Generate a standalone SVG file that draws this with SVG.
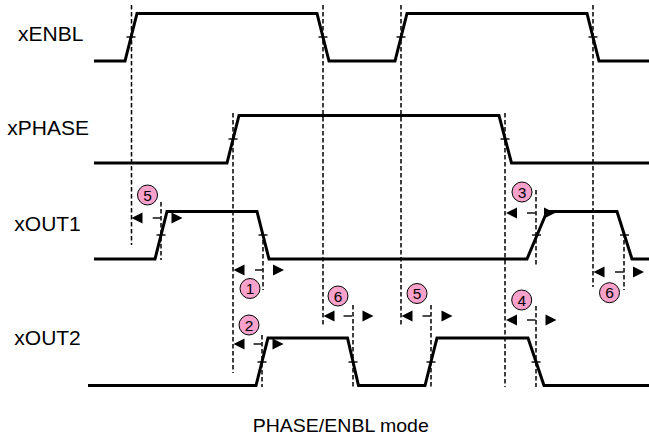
<svg xmlns="http://www.w3.org/2000/svg" xmlns:xlink="http://www.w3.org/1999/xlink" width="649" height="445" viewBox="0 0 649 445">
<style>
.sig{fill:none;stroke:#000;stroke-width:3;stroke-linejoin:miter}
.dash{fill:none;stroke:#000;stroke-width:1.5;stroke-dasharray:4.5,2.5}
.tick{stroke:#000;stroke-width:1.4}
.lbl{font-family:"Liberation Sans",Arial,sans-serif;font-size:21px;fill:#000}
.cap{font-family:"Liberation Sans",Arial,sans-serif;font-size:18px;fill:#000}
.num{font-family:"Liberation Sans",Arial,sans-serif;font-size:15.5px;fill:#000;text-anchor:middle}
.badge{fill:#F7A1CB;stroke:#000;stroke-width:1}
.ah{fill:#000}
</style>
<defs>
<polygon id="la" class="ah" points="0,0 11,-5.5 11,5.5"/>
<polygon id="ra" class="ah" points="0,-5.5 11,0 0,5.5"/>
</defs>
<g id="labels">
<text class="lbl" x="18" y="41">xENBL</text>
<text class="lbl" x="7.3" y="135">xPHASE</text>
<text class="lbl" x="14.3" y="231">xOUT1</text>
<text class="lbl" x="14.3" y="345">xOUT2</text>
<text class="cap" transform="translate(252.7,431.7) scale(1.085,1)" x="0" y="0">PHASE/ENBL mode</text>
</g>
<g id="connectors">
<line class="dash" x1="131.5" y1="5" x2="131.5" y2="245"/>
<line class="dash" x1="323" y1="5" x2="323" y2="325"/>
<line class="dash" x1="401" y1="5" x2="401" y2="325"/>
<line class="dash" x1="593" y1="5" x2="593" y2="287"/>
<line class="dash" x1="233" y1="113" x2="233" y2="373"/>
<line class="dash" x1="505" y1="113" x2="505" y2="387"/>
<line class="dash" x1="161" y1="202" x2="161" y2="260"/>
<line class="dash" x1="263" y1="233" x2="263" y2="290"/>
<line class="dash" x1="536" y1="190" x2="536" y2="265"/>
<line class="dash" x1="624" y1="233" x2="624" y2="290"/>
<line class="dash" x1="262" y1="335" x2="262" y2="387"/>
<line class="dash" x1="353" y1="305" x2="353" y2="387"/>
<line class="dash" x1="431" y1="305" x2="431" y2="387"/>
<line class="dash" x1="536" y1="306" x2="536" y2="387"/>
</g>
<g id="xENBL">
<path class="sig" d="M94,61 H125 L137,13.5 H317 L329,61 H395 L407,13.5 H587 L599,61 H649"/>
<line class="tick" x1="126.5" y1="37" x2="135.5" y2="37"/>
<line class="tick" x1="318.5" y1="37" x2="327.5" y2="37"/>
<line class="tick" x1="396.5" y1="37" x2="405.5" y2="37"/>
<line class="tick" x1="588.5" y1="37" x2="597.5" y2="37"/>
</g>
<g id="xPHASE">
<path class="sig" d="M94,163 H227 L239,115.5 H499 L511.5,163 H649"/>
<line class="tick" x1="228.5" y1="139" x2="237.5" y2="139"/>
<line class="tick" x1="500.5" y1="139" x2="509.5" y2="139"/>
</g>
<g id="xOUT1">
<path class="sig" d="M94,259 H155 L167,211.5 H257 L269,259 H527 L547,211.5 H617 L632,259 H649"/>
<line class="tick" x1="156.5" y1="235" x2="165.5" y2="235"/>
<line class="tick" x1="258.5" y1="235" x2="267.5" y2="235"/>
<line class="tick" x1="532" y1="235" x2="541" y2="235"/>
<line class="tick" x1="620" y1="235" x2="629" y2="235"/>
</g>
<g id="xOUT2">
<path class="sig" d="M88,385.5 H256 L268,338 H347.5 L358.5,385.5 H425 L437,338 H528 L544,385.5 H649"/>
<line class="tick" x1="257.5" y1="362" x2="266.5" y2="362"/>
<line class="tick" x1="348.5" y1="362" x2="357.5" y2="362"/>
<line class="tick" x1="426.5" y1="362" x2="435.5" y2="362"/>
<line class="tick" x1="531.5" y1="362" x2="540.5" y2="362"/>
</g>
<g id="t5a">
<use xlink:href="#la" x="131.5" y="218"/>
<line class="tick" x1="152.7" y1="218" x2="160.5" y2="218"/>
<use xlink:href="#ra" x="171.5" y="218"/>
<circle class="badge" cx="147.5" cy="195" r="10"/>
<text class="num" x="147.5" y="200.5">5</text>
</g>
<g id="t1">
<use xlink:href="#la" x="233.5" y="270"/>
<line class="tick" x1="255" y1="270" x2="262.7" y2="270"/>
<use xlink:href="#ra" x="273" y="270"/>
<circle class="badge" cx="250" cy="288.5" r="10"/>
<text class="num" x="250" y="294">1</text>
</g>
<g id="t2">
<use xlink:href="#la" x="233.5" y="344"/>
<line class="tick" x1="253.5" y1="344" x2="261.5" y2="344"/>
<use xlink:href="#ra" x="272.5" y="344"/>
<circle class="badge" cx="249" cy="325" r="10"/>
<text class="num" x="249" y="330.5">2</text>
</g>
<g id="t6a">
<use xlink:href="#la" x="323.5" y="316"/>
<line class="tick" x1="343.5" y1="316" x2="352" y2="316"/>
<use xlink:href="#ra" x="362.5" y="316"/>
<circle class="badge" cx="338" cy="296" r="10"/>
<text class="num" x="338" y="301.5">6</text>
</g>
<g id="t5b">
<use xlink:href="#la" x="401.5" y="316"/>
<line class="tick" x1="422.5" y1="316" x2="430.5" y2="316"/>
<use xlink:href="#ra" x="441.5" y="316"/>
<circle class="badge" cx="417" cy="293.5" r="10"/>
<text class="num" x="417" y="299">5</text>
</g>
<g id="t4">
<use xlink:href="#la" x="506" y="320"/>
<line class="tick" x1="527" y1="320" x2="535.5" y2="320"/>
<use xlink:href="#ra" x="545.5" y="320"/>
<circle class="badge" cx="521.7" cy="300" r="10"/>
<text class="num" x="521.7" y="305.5">4</text>
</g>
<g id="t3">
<use xlink:href="#la" x="506" y="213"/>
<line class="tick" x1="527" y1="213" x2="535.5" y2="213"/>
<use xlink:href="#ra" x="544" y="213"/>
<circle class="badge" cx="522" cy="192" r="10"/>
<text class="num" x="522" y="197.5">3</text>
</g>
<g id="t6b">
<use xlink:href="#la" x="593.5" y="272"/>
<line class="tick" x1="615" y1="272" x2="623.5" y2="272"/>
<use xlink:href="#ra" x="633" y="272"/>
<circle class="badge" cx="609.5" cy="292.7" r="10"/>
<text class="num" x="609.5" y="298.2">6</text>
</g>
</svg>
